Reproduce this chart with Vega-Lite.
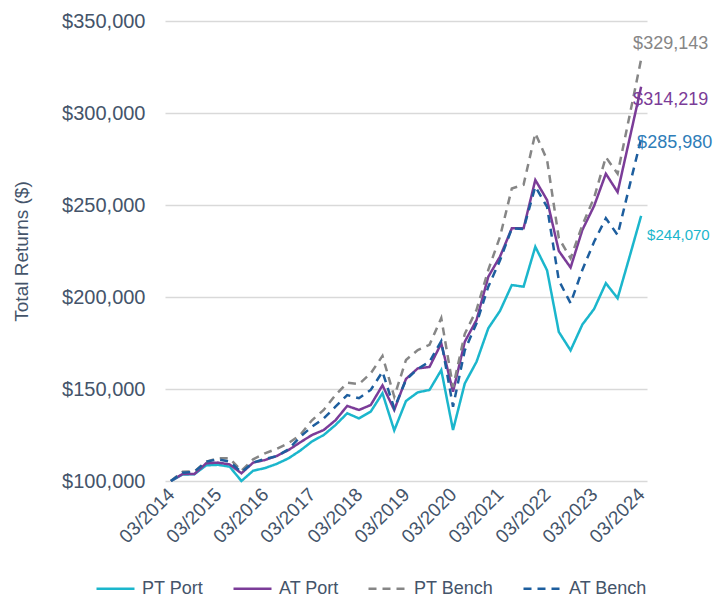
{
"$schema":"https://vega.github.io/schema/vega-lite/v6.json",
"width":482,"height":460,
"autosize":{"type":"none"},
"padding":{"left":165,"top":21,"right":77,"bottom":119},
"background":"white",
"config":{"font":"Liberation Sans","view":{"stroke":null},
"legend":{"orient":"none","legendX":-70,"legendY":547,"direction":"horizontal","title":null,"labelFontSize":18,"labelColor":"#44546A","symbolType":"stroke","symbolSize":1444,"symbolStrokeWidth":2.5,"columnPadding":24,"labelOffset":6,"labelLimit":200}},
"datasets":{"d":[
{"q":"03/2014","s":"PT Port","v":100000},{"q":"06/2014","s":"PT Port","v":103500},{"q":"09/2014","s":"PT Port","v":103700},{"q":"12/2014","s":"PT Port","v":108500},
{"q":"03/2015","s":"PT Port","v":108800},{"q":"06/2015","s":"PT Port","v":107800},{"q":"09/2015","s":"PT Port","v":100000},{"q":"12/2015","s":"PT Port","v":105600},
{"q":"03/2016","s":"PT Port","v":107000},{"q":"06/2016","s":"PT Port","v":109300},{"q":"09/2016","s":"PT Port","v":112300},{"q":"12/2016","s":"PT Port","v":116500},
{"q":"03/2017","s":"PT Port","v":121500},{"q":"06/2017","s":"PT Port","v":125000},{"q":"09/2017","s":"PT Port","v":130400},{"q":"12/2017","s":"PT Port","v":136800},
{"q":"03/2018","s":"PT Port","v":134000},{"q":"06/2018","s":"PT Port","v":137700},{"q":"09/2018","s":"PT Port","v":147700},{"q":"12/2018","s":"PT Port","v":127500},
{"q":"03/2019","s":"PT Port","v":143500},{"q":"06/2019","s":"PT Port","v":148200},{"q":"09/2019","s":"PT Port","v":149500},{"q":"12/2019","s":"PT Port","v":160300},
{"q":"03/2020","s":"PT Port","v":127700},{"q":"06/2020","s":"PT Port","v":153000},{"q":"09/2020","s":"PT Port","v":164800},{"q":"12/2020","s":"PT Port","v":183000},
{"q":"03/2021","s":"PT Port","v":192500},{"q":"06/2021","s":"PT Port","v":206500},{"q":"09/2021","s":"PT Port","v":205600},{"q":"12/2021","s":"PT Port","v":227300},
{"q":"03/2022","s":"PT Port","v":214500},{"q":"06/2022","s":"PT Port","v":181000},{"q":"09/2022","s":"PT Port","v":171000},{"q":"12/2022","s":"PT Port","v":185000},
{"q":"03/2023","s":"PT Port","v":193500},{"q":"06/2023","s":"PT Port","v":207500},{"q":"09/2023","s":"PT Port","v":199300},{"q":"12/2023","s":"PT Port","v":221500},
{"q":"03/2024","s":"PT Port","v":244070},
{"q":"03/2014","s":"AT Port","v":100000},{"q":"06/2014","s":"AT Port","v":103800},{"q":"09/2014","s":"AT Port","v":103800},{"q":"12/2014","s":"AT Port","v":109600},
{"q":"03/2015","s":"AT Port","v":110000},{"q":"06/2015","s":"AT Port","v":109000},{"q":"09/2015","s":"AT Port","v":104200},{"q":"12/2015","s":"AT Port","v":110000},
{"q":"03/2016","s":"AT Port","v":111400},{"q":"06/2016","s":"AT Port","v":113600},{"q":"09/2016","s":"AT Port","v":116800},{"q":"12/2016","s":"AT Port","v":121000},
{"q":"03/2017","s":"AT Port","v":125000},{"q":"06/2017","s":"AT Port","v":127700},{"q":"09/2017","s":"AT Port","v":133000},{"q":"12/2017","s":"AT Port","v":140800},
{"q":"03/2018","s":"AT Port","v":138600},{"q":"06/2018","s":"AT Port","v":141300},{"q":"09/2018","s":"AT Port","v":152000},{"q":"12/2018","s":"AT Port","v":138600},
{"q":"03/2019","s":"AT Port","v":155500},{"q":"06/2019","s":"AT Port","v":161200},{"q":"09/2019","s":"AT Port","v":162000},{"q":"12/2019","s":"AT Port","v":174800},
{"q":"03/2020","s":"AT Port","v":148500},{"q":"06/2020","s":"AT Port","v":175700},{"q":"09/2020","s":"AT Port","v":187500},{"q":"12/2020","s":"AT Port","v":211000},
{"q":"03/2021","s":"AT Port","v":222000},{"q":"06/2021","s":"AT Port","v":237300},{"q":"09/2021","s":"AT Port","v":237300},{"q":"12/2021","s":"AT Port","v":263600},
{"q":"03/2022","s":"AT Port","v":252700},{"q":"06/2022","s":"AT Port","v":225000},{"q":"09/2022","s":"AT Port","v":216000},{"q":"12/2022","s":"AT Port","v":236400},
{"q":"03/2023","s":"AT Port","v":249500},{"q":"06/2023","s":"AT Port","v":267000},{"q":"09/2023","s":"AT Port","v":257000},{"q":"12/2023","s":"AT Port","v":285500},
{"q":"03/2024","s":"AT Port","v":314219},
{"q":"03/2014","s":"PT Bench","v":100000},{"q":"06/2014","s":"PT Bench","v":105000},{"q":"09/2014","s":"PT Bench","v":105200},{"q":"12/2014","s":"PT Bench","v":110500},
{"q":"03/2015","s":"PT Bench","v":112300},{"q":"06/2015","s":"PT Bench","v":112300},{"q":"09/2015","s":"PT Bench","v":105500},{"q":"12/2015","s":"PT Bench","v":111800},
{"q":"03/2016","s":"PT Bench","v":115000},{"q":"06/2016","s":"PT Bench","v":117500},{"q":"09/2016","s":"PT Bench","v":120500},{"q":"12/2016","s":"PT Bench","v":125000},
{"q":"03/2017","s":"PT Bench","v":133000},{"q":"06/2017","s":"PT Bench","v":138600},{"q":"09/2017","s":"PT Bench","v":146700},{"q":"12/2017","s":"PT Bench","v":153400},
{"q":"03/2018","s":"PT Bench","v":152700},{"q":"06/2018","s":"PT Bench","v":158500},{"q":"09/2018","s":"PT Bench","v":168000},{"q":"12/2018","s":"PT Bench","v":145800},
{"q":"03/2019","s":"PT Bench","v":165800},{"q":"06/2019","s":"PT Bench","v":171200},{"q":"09/2019","s":"PT Bench","v":174000},{"q":"12/2019","s":"PT Bench","v":188500},
{"q":"03/2020","s":"PT Bench","v":151000},{"q":"06/2020","s":"PT Bench","v":180000},{"q":"09/2020","s":"PT Bench","v":193000},{"q":"12/2020","s":"PT Bench","v":214700},
{"q":"03/2021","s":"PT Bench","v":232800},{"q":"06/2021","s":"PT Bench","v":259000},{"q":"09/2021","s":"PT Bench","v":261000},{"q":"12/2021","s":"PT Bench","v":289000},
{"q":"03/2022","s":"PT Bench","v":274500},{"q":"06/2022","s":"PT Bench","v":232000},{"q":"09/2022","s":"PT Bench","v":221000},{"q":"12/2022","s":"PT Bench","v":239000},
{"q":"03/2023","s":"PT Bench","v":254000},{"q":"06/2023","s":"PT Bench","v":276000},{"q":"09/2023","s":"PT Bench","v":267000},{"q":"12/2023","s":"PT Bench","v":298000},
{"q":"03/2024","s":"PT Bench","v":329143},
{"q":"03/2014","s":"AT Bench","v":100000},{"q":"06/2014","s":"AT Bench","v":104500},{"q":"09/2014","s":"AT Bench","v":105000},{"q":"12/2014","s":"AT Bench","v":110500},
{"q":"03/2015","s":"AT Bench","v":111800},{"q":"06/2015","s":"AT Bench","v":110500},{"q":"09/2015","s":"AT Bench","v":104800},{"q":"12/2015","s":"AT Bench","v":110000},
{"q":"03/2016","s":"AT Bench","v":112000},{"q":"06/2016","s":"AT Bench","v":113500},{"q":"09/2016","s":"AT Bench","v":117200},{"q":"12/2016","s":"AT Bench","v":124000},
{"q":"03/2017","s":"AT Bench","v":129500},{"q":"06/2017","s":"AT Bench","v":134000},{"q":"09/2017","s":"AT Bench","v":140400},{"q":"12/2017","s":"AT Bench","v":146700},
{"q":"03/2018","s":"AT Bench","v":145000},{"q":"06/2018","s":"AT Bench","v":149500},{"q":"09/2018","s":"AT Bench","v":159400},{"q":"12/2018","s":"AT Bench","v":139500},
{"q":"03/2019","s":"AT Bench","v":155000},{"q":"06/2019","s":"AT Bench","v":161000},{"q":"09/2019","s":"AT Bench","v":164800},{"q":"12/2019","s":"AT Bench","v":176000},
{"q":"03/2020","s":"AT Bench","v":140400},{"q":"06/2020","s":"AT Bench","v":171000},{"q":"09/2020","s":"AT Bench","v":185700},{"q":"12/2020","s":"AT Bench","v":205600},
{"q":"03/2021","s":"AT Bench","v":220000},{"q":"06/2021","s":"AT Bench","v":237300},{"q":"09/2021","s":"AT Bench","v":237000},{"q":"12/2021","s":"AT Bench","v":260000},
{"q":"03/2022","s":"AT Bench","v":249000},{"q":"06/2022","s":"AT Bench","v":209000},{"q":"09/2022","s":"AT Bench","v":196600},{"q":"12/2022","s":"AT Bench","v":214700},
{"q":"03/2023","s":"AT Bench","v":230000},{"q":"06/2023","s":"AT Bench","v":242800},{"q":"09/2023","s":"AT Bench","v":233700},{"q":"12/2023","s":"AT Bench","v":260000},
{"q":"03/2024","s":"AT Bench","v":285980}
]},
"data":{"name":"d"},
"encoding":{
"x":{"field":"q","type":"ordinal","sort":null,"scale":{"type":"point","padding":0.5},
"axis":{"title":null,"labelExpr":"slice(datum.value,0,2)=='03' ? datum.value : ''","labelAngle":-45,"labelAlign":"right","labelBaseline":"middle","ticks":false,"domain":false,"labelFontSize":19,"labelColor":"#44546A","labelPadding":10,"labelOverlap":false}},
"y":{"field":"v","type":"quantitative","scale":{"domain":[100000,350000],"nice":false,"zero":false},
"axis":{"title":"Total Returns ($)","format":"$,.0f","values":[100000,150000,200000,250000,300000,350000],"labelFontSize":20,"labelColor":"#44546A","labelPadding":20,"domain":false,"ticks":false,"grid":true,"gridColor":"#D9D9D9","gridWidth":1.5,"titleFontSize":19,"titleFontWeight":"normal","titleColor":"#44546A","titlePadding":30}}
},
"layer":[
{"mark":{"type":"line","strokeWidth":2.5},
"encoding":{
"color":{"field":"s","type":"nominal","scale":{"domain":["PT Port","AT Port","PT Bench","AT Bench"],"range":["#1BB6CC","#7B3C98","#868686","#1D5E9E"]}},
"strokeDash":{"field":"s","type":"nominal","scale":{"domain":["PT Port","AT Port","PT Bench","AT Bench"],"range":[[1,0],[1,0],[8,6],[8,6]]}}
}},
{"transform":[{"filter":"datum.q=='03/2024' && datum.s=='PT Bench'"}],
"mark":{"type":"text","align":"left","baseline":"middle","dx":-8,"dy":-15,"fontSize":18,"color":"#868686"},
"encoding":{"text":{"field":"v","type":"quantitative","format":"$,.0f"}}},
{"transform":[{"filter":"datum.q=='03/2024' && datum.s=='AT Port'"}],
"mark":{"type":"text","align":"left","baseline":"middle","dx":-8,"dy":13,"fontSize":18,"color":"#7B3C98"},
"encoding":{"text":{"field":"v","type":"quantitative","format":"$,.0f"}}},
{"transform":[{"filter":"datum.q=='03/2024' && datum.s=='AT Bench'"}],
"mark":{"type":"text","align":"left","baseline":"middle","dx":-4,"dy":4,"fontSize":18,"color":"#2E7DB8"},
"encoding":{"text":{"field":"v","type":"quantitative","format":"$,.0f"}}},
{"transform":[{"filter":"datum.q=='03/2024' && datum.s=='PT Port'"}],
"mark":{"type":"text","align":"left","baseline":"middle","dx":6,"dy":19,"fontSize":15,"color":"#1BB6CC"},
"encoding":{"text":{"field":"v","type":"quantitative","format":"$,.0f"}}}
]
}
